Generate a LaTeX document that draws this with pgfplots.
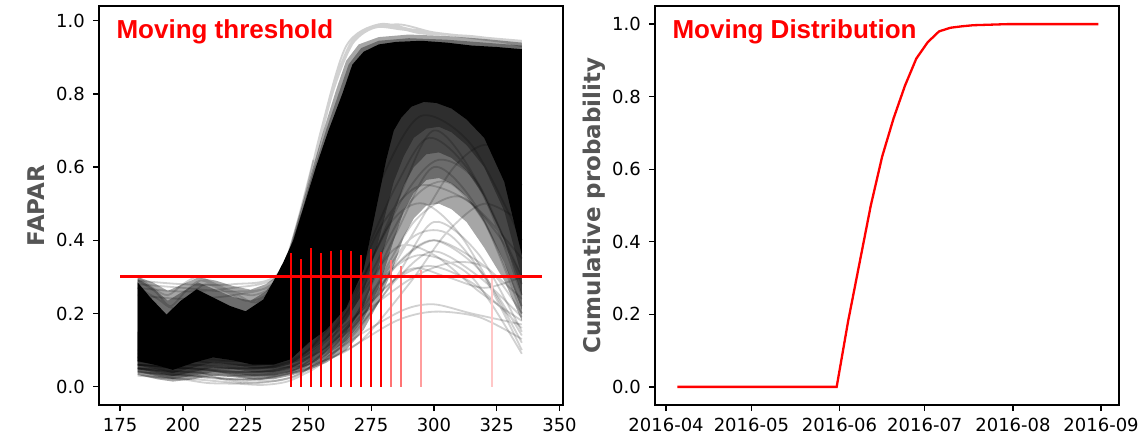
\documentclass[border=0pt]{standalone}
\usepackage{fontspec}
\setmainfont{DejaVu Sans}
\newfontfamily\arialfont{Liberation Sans}
\usepackage{pgfplots}
\pgfplotsset{compat=1.18}
\definecolor{labgray}{RGB}{85,85,85}
\definecolor{mplred}{RGB}{255,0,0}

\pgfplotsset{
  panel/.style={
    scale only axis, width=464pt, height=399pt,
    axis line style={line width=1.3pt},
    every tick/.style={line width=1.3pt, black},
    major tick length=6pt, tick align=outside,
    xtick pos=bottom, ytick pos=left,
    no marks, unbounded coords=jump,
    ticklabel style={font=\fontsize{18}{20}\selectfont, inner sep=0pt},
    /pgf/number format/assume math mode=true,
    yticklabel style={anchor=east, xshift=-8pt,
      /pgf/number format/fixed, /pgf/number format/fixed zerofill,
      /pgf/number format/precision=1},
    xticklabel style={anchor=north, yshift=-7pt},
    ylabel style={font=\fontsize{23}{26}\selectfont\bfseries, text=labgray, anchor=center},
  },
  leftlims/.style={xmin=166.6, xmax=351.4, ymin=-0.05, ymax=1.04},
  crv/.style={black, opacity=0.18, line width=1.8pt, smooth},
  band/.style={fill=black, fill opacity=0.35, draw=none},
  vl/.style={ycomb, draw=red, line width=1.8pt},
}

\begin{document}
\begin{tikzpicture}
\useasboundingbox (0,0) rectangle (1145pt,437pt);

% ---------------- left panel: FAPAR curves ----------------
\begin{axis}[panel, leftlims, at={(99pt,32pt)}, anchor=south west,
  xtick={175,200,225,250,275,300,325,350},
  ytick={0,0.2,0.4,0.6,0.8,1.0},
  ylabel={FAPAR}, ylabel style={at={(axis description cs:-0.136,0.5)}}]

% graded bands below the core (bottom fringe and arch)
\addplot[band] coordinates {
(182,0.058) (190,0.047) (196,0.037) (204,0.052) (212,0.066) (220,0.06) (228,0.05)
(236,0.05) (243,0.062) (250,0.095) (257,0.13) (265,0.18) (272,0.26) (278,0.40)
(284,0.56) (288,0.63) (292,0.68) (297,0.705) (302,0.71) (307,0.695) (313,0.66)
(320,0.60) (328,0.48) (335,0.30)
(335,0.9) (300,0.9) (275,0.85) (262,0.6) (250,0.35) (240,0.2) (220,0.15) (200,0.15) (182,0.15)} -- cycle;
\addplot[band] coordinates {
(182,0.048) (190,0.037) (196,0.029) (204,0.04) (212,0.052) (220,0.048) (228,0.04)
(236,0.04) (243,0.05) (250,0.075) (257,0.105) (265,0.15) (272,0.22) (278,0.33)
(284,0.47) (288,0.55) (292,0.60) (297,0.635) (302,0.64) (307,0.625) (313,0.59)
(320,0.52) (328,0.40) (335,0.25)
(335,0.9) (300,0.9) (275,0.85) (262,0.6) (250,0.35) (240,0.2) (220,0.15) (200,0.15) (182,0.15)} -- cycle;
\addplot[band] coordinates {
(182,0.04) (190,0.028) (196,0.021) (204,0.03) (212,0.04) (220,0.036) (228,0.03)
(236,0.03) (243,0.04) (250,0.06) (257,0.085) (265,0.125) (272,0.185) (278,0.27)
(284,0.40) (288,0.48) (292,0.53) (297,0.565) (302,0.57) (307,0.555) (313,0.52)
(320,0.45) (328,0.34) (335,0.21)
(335,0.9) (300,0.9) (275,0.85) (262,0.6) (250,0.35) (240,0.2) (220,0.15) (200,0.15) (182,0.15)} -- cycle;
\addplot[band] coordinates {
(182,0.032) (190,0.02) (196,0.014) (204,0.02) (212,0.03) (220,0.026) (228,0.02)
(236,0.02) (243,0.03) (250,0.045) (257,0.065) (265,0.10) (272,0.155) (278,0.23)
(284,0.33) (288,0.41) (292,0.46) (297,0.495) (302,0.50) (307,0.485) (313,0.45)
(320,0.38) (328,0.29) (335,0.18)
(335,0.9) (300,0.9) (275,0.85) (262,0.6) (250,0.35) (240,0.2) (220,0.15) (200,0.15) (182,0.15)} -- cycle;

% graded bands above the core (top fringe)
\addplot[band] coordinates {
(182,0.295) (188,0.27) (194,0.235) (200,0.26) (206,0.285) (213,0.265) (220,0.245)
(227,0.235) (233,0.26) (238,0.30) (242,0.36) (247,0.47) (252,0.59) (257,0.70)
(262,0.80) (266,0.88) (271,0.925) (278,0.945) (290,0.952) (305,0.948) (320,0.94) (335,0.932)
(335,0.85) (300,0.85) (275,0.85) (260,0.6) (248,0.35) (235,0.15) (210,0.15) (190,0.15) (182,0.15)} -- cycle;
\addplot[band] coordinates {
(182,0.30) (188,0.285) (194,0.262) (200,0.28) (206,0.298) (213,0.29) (220,0.275)
(227,0.265) (233,0.28) (238,0.305) (241,0.34) (246,0.46) (251,0.58) (256,0.70)
(261,0.81) (265,0.89) (270,0.935) (278,0.955) (290,0.962) (305,0.958) (320,0.95) (335,0.94)
(335,0.85) (300,0.85) (275,0.85) (260,0.6) (248,0.35) (235,0.15) (210,0.15) (190,0.15) (182,0.15)} -- cycle;

% core
\addplot[fill=black, draw=none] coordinates {
(182,0.07) (182,0.285) (187,0.244) (193.5,0.197) (199,0.234) (205.5,0.266)
(212,0.244) (219,0.22) (225,0.206) (232,0.238) (237,0.30) (240,0.34) (244,0.40)
(248.5,0.50) (253,0.60) (258,0.70) (263.5,0.80) (267.5,0.88) (272,0.915)
(278,0.935) (285,0.942) (295,0.945) (305,0.94) (315,0.932) (325,0.928) (335,0.922)
(335,0.36) (328,0.56) (320,0.68) (313,0.73) (307,0.76) (301,0.775) (296,0.778)
(291,0.765) (287,0.735) (284,0.70) (281,0.62) (278,0.52) (275,0.42) (272,0.32)
(265,0.215) (257,0.155) (250,0.12) (243,0.075)
(236,0.06) (228,0.06) (220,0.072) (212,0.08) (204,0.065) (196,0.046) (190,0.058)} -- cycle;

% single curves, late risers
\addplot[crv] coordinates {
(182,0.05)(200,0.04)(222,0.03)(245,0.05)(265,0.15)(285,0.42)(300,0.60)(318,0.48)(335,0.20) (0,nan)
(182,0.08)(200,0.06)(222,0.05)(245,0.07)(265,0.20)(285,0.50)(300,0.70)(318,0.55)(335,0.25) (0,nan)
(182,0.06)(200,0.05)(222,0.04)(245,0.05)(265,0.12)(285,0.30)(300,0.45)(318,0.36)(335,0.15) (0,nan)
(182,0.04)(200,0.03)(222,0.02)(245,0.04)(265,0.10)(285,0.18)(300,0.205)(318,0.19)(335,0.13) (0,nan)
(182,0.10)(200,0.08)(222,0.07)(245,0.10)(265,0.25)(280,0.45)(295,0.55)(315,0.50)(335,0.35)};
\addplot[crv] coordinates {
(182,0.06)(200,0.05)(222,0.05)(250,0.06)(270,0.12)(290,0.28)(305,0.42)(320,0.50)(335,0.45) (0,nan)
(182,0.05)(205,0.03)(230,0.02)(250,0.06)(270,0.20)(290,0.40)(305,0.42)(320,0.30)(335,0.10) (0,nan)
(182,0.07)(205,0.06)(230,0.06)(250,0.08)(270,0.18)(290,0.40)(308,0.60)(322,0.66)(335,0.55) (0,nan)
(182,0.08)(205,0.07)(230,0.05)(250,0.10)(268,0.30)(285,0.55)(298,0.68)(315,0.58)(335,0.30) (0,nan)
(182,0.03)(205,0.02)(230,0.01)(250,0.05)(268,0.22)(285,0.38)(300,0.36)(318,0.26)(335,0.18)};
\addplot[crv] coordinates {
(182,0.09)(205,0.08)(230,0.07)(250,0.12)(265,0.30)(280,0.58)(295,0.74)(315,0.66)(335,0.40) (0,nan)
(182,0.05)(205,0.05)(230,0.04)(250,0.08)(270,0.25)(290,0.50)(305,0.56)(320,0.45)(335,0.22) (0,nan)
(182,0.06)(205,0.05)(230,0.03)(250,0.05)(270,0.14)(288,0.21)(300,0.225)(315,0.20)(335,0.17) (0,nan)
(182,0.07)(205,0.06)(230,0.05)(250,0.09)(270,0.20)(290,0.32)(305,0.30)(320,0.27)(335,0.30) (0,nan)
(182,0.04)(205,0.03)(230,0.02)(250,0.07)(268,0.25)(283,0.45)(296,0.50)(312,0.40)(335,0.12)};
\addplot[crv] coordinates {
(182,0.06)(205,0.05)(230,0.04)(252,0.08)(272,0.22)(292,0.45)(310,0.52)(325,0.42)(335,0.30) (0,nan)
(182,0.05)(205,0.04)(230,0.03)(250,0.06)(265,0.16)(280,0.30)(295,0.36)(315,0.30)(335,0.09) (0,nan)
(182,0.08)(205,0.07)(230,0.06)(250,0.10)(270,0.28)(288,0.52)(302,0.62)(318,0.55)(335,0.28) (0,nan)
(182,0.07)(205,0.05)(230,0.04)(250,0.07)(268,0.18)(285,0.33)(300,0.40)(318,0.34)(335,0.24) (0,nan)
(182,0.05)(205,0.04)(230,0.035)(250,0.07)(272,0.20)(292,0.30)(308,0.34)(322,0.32)(335,0.20)};

% early risers
\addplot[crv] coordinates {
(182,0.28)(200,0.27)(220,0.26)(236,0.28)(245,0.42)(255,0.70)(265,0.93)(278,0.99)(292,0.975)(312,0.955)(335,0.935) (0,nan)
(182,0.25)(200,0.24)(220,0.25)(237,0.29)(247,0.48)(257,0.75)(267,0.94)(280,0.985)(295,0.965)(315,0.958)(335,0.94) (0,nan)
(182,0.29)(200,0.28)(220,0.28)(238,0.31)(249,0.52)(260,0.81)(270,0.96)(285,0.99)(300,0.968)(320,0.952)(335,0.93) (0,nan)
(182,0.27)(200,0.26)(220,0.27)(237,0.30)(246,0.45)(256,0.72)(266,0.92)(276,0.98)(288,0.975)(310,0.96)(335,0.945)};

% bottom and top fringe curves
\addplot[crv] coordinates {
(182,0.035)(190,0.025)(200,0.02)(210,0.01)(222,0.008)(232,0.005)(242,0.015)(252,0.05)(262,0.11)(274,0.22)(286,0.34)(300,0.40)(318,0.32)(335,0.14) (0,nan)
(182,0.045)(194,0.03)(206,0.04)(216,0.02)(228,0.012)(240,0.02)(250,0.04)(260,0.09)(272,0.18)(286,0.30)(300,0.37)(318,0.30)(335,0.19) (0,nan)
(182,0.05)(195,0.04)(210,0.045)(222,0.03)(235,0.015)(245,0.03)(256,0.08)(268,0.17)(282,0.28)(298,0.33)(316,0.28)(335,0.16) (0,nan)
(182,0.30)(188,0.27)(194,0.25)(200,0.28)(206,0.30)(213,0.28)(220,0.26)(228,0.25)(235,0.27)(240,0.32)(246,0.46)(252,0.62) (0,nan)
(182,0.29)(189,0.26)(195,0.22)(201,0.26)(207,0.29)(215,0.27)(222,0.25)(229,0.23)(236,0.27)(241,0.34)(247,0.47) (0,nan)
(182,0.27)(190,0.24)(196,0.215)(203,0.25)(209,0.28)(217,0.26)(225,0.235)(232,0.245)(238,0.29)(243,0.38)(249,0.50)};
\end{axis}

% overlay with the red marks of the left panel
\begin{axis}[panel, leftlims, hide axis, at={(99pt,32pt)}, anchor=south west]
\addplot[vl] coordinates {(243,0.365) (247,0.35) (251,0.38) (255,0.365) (259,0.37)
  (263,0.373) (267,0.37) (271,0.36) (275,0.375) (279,0.368)};
\addplot[vl, draw=red!55!white] coordinates {(283,0.345) (287,0.33)};
\addplot[vl, draw=red!38!white] coordinates {(295,0.32)};
\addplot[vl, draw=red!22!white] coordinates {(323,0.30)};
\addplot[draw=red, line width=3pt] coordinates {(175,0.30) (343,0.30)};
\node[anchor=base west, text=mplred, font=\arialfont\bfseries\fontsize{26}{28}\selectfont]
  at (rel axis cs:0,1) [xshift=14pt, yshift=-33pt] {Moving threshold};
\end{axis}

% ---------------- right panel: CDF ----------------
\begin{axis}[panel, at={(655pt,32pt)}, anchor=south west,
  xmin=88.1, xmax=251.3, ymin=-0.05, ymax=1.05,
  xtick={92,122,153,183,214,245},
  xticklabels={2016-04,2016-05,2016-06,2016-07,2016-08,2016-09},
  ytick={0,0.2,0.4,0.6,0.8,1.0},
  ylabel={Cumulative probability}, ylabel style={at={(axis description cs:-0.131,0.5)}}]
\addplot[draw=mplred, line width=2.3pt] coordinates {
(96,0) (100,0) (104,0) (108,0) (112,0) (116,0) (120,0) (124,0) (128,0)
(132,0) (136,0) (140,0) (144,0) (148,0) (152,0)
(156,0.18) (160,0.34) (164,0.50) (168,0.635) (172,0.74) (176,0.83)
(180,0.905) (184,0.95) (188,0.98) (192,0.99) (196,0.994) (200,0.997)
(204,0.998) (208,0.999) (212,1.0) (216,1.0) (220,1.0) (224,1.0) (228,1.0)
(232,1.0) (236,1.0) (240,1.0) (244,1.0)};
\node[anchor=base west, text=mplred, font=\arialfont\bfseries\fontsize{26}{28}\selectfont]
  at (rel axis cs:0,1) [xshift=14pt, yshift=-33pt] {Moving Distribution};
\end{axis}
\end{tikzpicture}
\end{document}
